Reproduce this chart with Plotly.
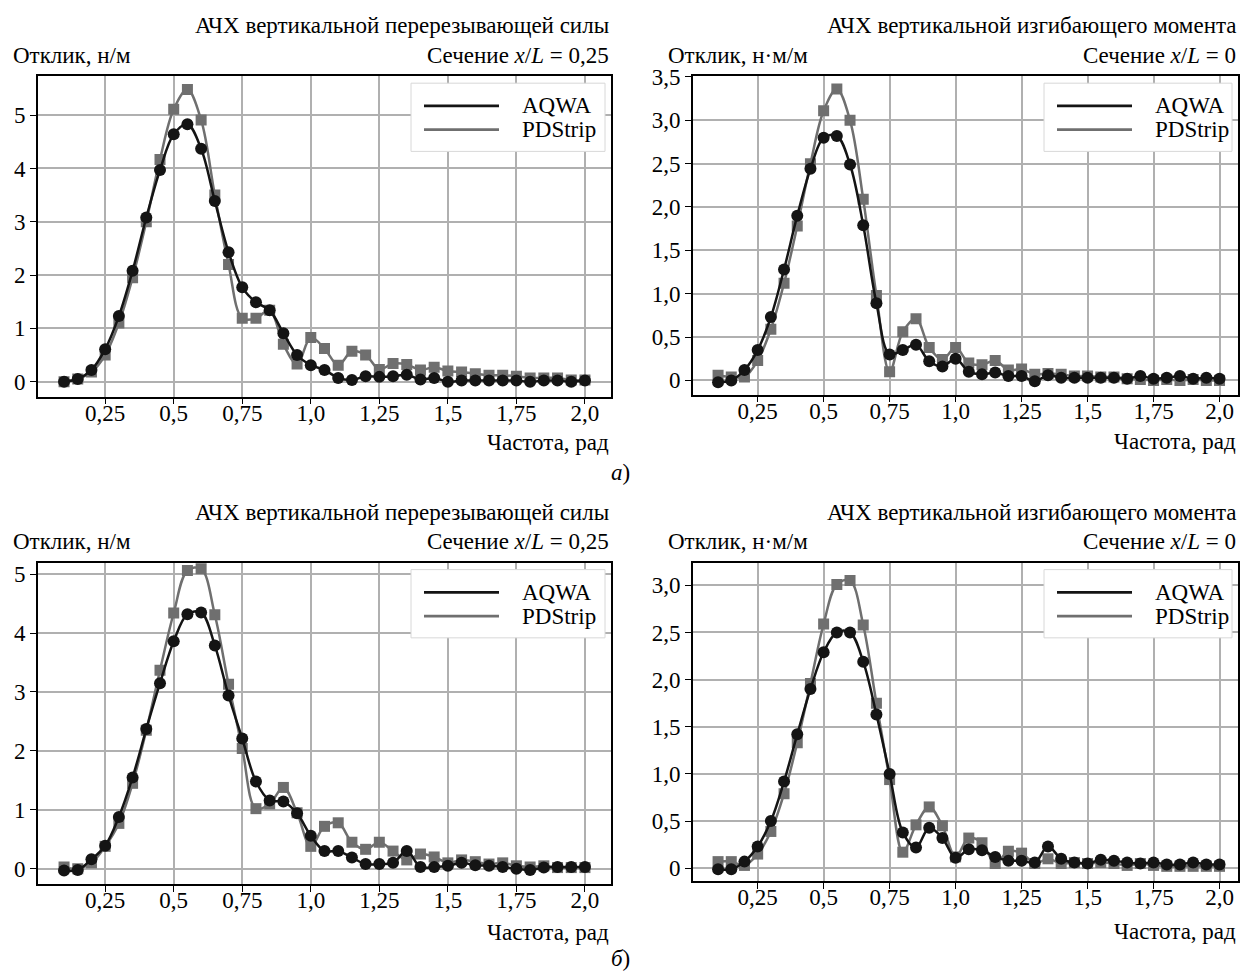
import plotly.graph_objects as go

W, H = 1241, 973
FONT = "Liberation Serif"
FS = 23

freq = [round(0.10 + 0.05 * i, 2) for i in range(39)]

# Panel a) left: vertical shear force, x/L = 0.25
a_force_aqwa = [0.0, 0.05, 0.22, 0.61, 1.23, 2.08, 3.08, 3.97, 4.64, 4.83, 4.37, 3.39, 2.43, 1.77, 1.49,
                1.34, 0.91, 0.50, 0.31, 0.22, 0.07, 0.03, 0.10, 0.09, 0.10, 0.13, 0.04, 0.07, 0.0, 0.02,
                0.02, 0.02, 0.02, 0.02, 0.0, 0.02, 0.02, 0.0, 0.02]
a_force_pdstrip = [0.0, 0.05, 0.18, 0.50, 1.10, 1.95, 3.0, 4.17, 5.11, 5.48, 4.91, 3.50, 2.20, 1.19, 1.19,
                   1.34, 0.70, 0.33, 0.83, 0.62, 0.31, 0.57, 0.50, 0.23, 0.34, 0.32, 0.22, 0.27, 0.20, 0.18,
                   0.15, 0.12, 0.12, 0.10, 0.07, 0.07, 0.07, 0.03, 0.03]
# Panel a) right: vertical bending moment, x/L = 0
a_moment_aqwa = [-0.02, 0.0, 0.12, 0.35, 0.73, 1.28, 1.90, 2.44, 2.80, 2.82, 2.49, 1.79, 0.89, 0.30, 0.35,
                 0.41, 0.22, 0.16, 0.25, 0.10, 0.07, 0.09, 0.05, 0.05, -0.01, 0.06, 0.03, 0.03, 0.03, 0.03,
                 0.03, 0.02, 0.05, 0.02, 0.03, 0.05, 0.02, 0.03, 0.02]
a_moment_pdstrip = [0.06, 0.04, 0.04, 0.23, 0.59, 1.12, 1.78, 2.50, 3.11, 3.36, 3.0, 2.09, 0.98, 0.10, 0.56,
                    0.71, 0.38, 0.24, 0.38, 0.20, 0.18, 0.23, 0.12, 0.13, 0.07, 0.08, 0.07, 0.05, 0.05, 0.04,
                    0.04, 0.02, 0.01, 0.0, 0.01, 0.0, 0.01, 0.0, 0.0]
# Panel б) left
b_force_aqwa = [-0.03, -0.02, 0.16, 0.39, 0.88, 1.55, 2.37, 3.15, 3.86, 4.32, 4.35, 3.79, 2.94, 2.21, 1.48,
                1.16, 1.14, 0.94, 0.56, 0.30, 0.30, 0.19, 0.08, 0.08, 0.10, 0.30, 0.03, 0.03, 0.05, 0.10,
                0.06, 0.05, 0.03, 0.0, -0.02, 0.02, 0.03, 0.03, 0.03]
b_force_pdstrip = [0.03, 0.0, 0.10, 0.38, 0.77, 1.45, 2.35, 3.37, 4.34, 5.06, 5.09, 4.31, 3.13, 2.04, 1.02,
                   1.10, 1.38, 0.95, 0.38, 0.72, 0.78, 0.45, 0.33, 0.45, 0.30, 0.15, 0.25, 0.20, 0.10, 0.15,
                   0.12, 0.08, 0.10, 0.05, 0.03, 0.05, 0.02, 0.02, 0.02]
# Panel б) right
b_moment_aqwa = [-0.01, -0.01, 0.07, 0.23, 0.50, 0.92, 1.42, 1.90, 2.29, 2.50, 2.50, 2.19, 1.63, 1.0, 0.38,
                 0.22, 0.43, 0.32, 0.11, 0.20, 0.19, 0.12, 0.08, 0.08, 0.06, 0.23, 0.10, 0.06, 0.05, 0.09,
                 0.08, 0.06, 0.05, 0.06, 0.04, 0.04, 0.06, 0.04, 0.04]
b_moment_pdstrip = [0.07, 0.07, 0.03, 0.15, 0.39, 0.79, 1.33, 1.96, 2.59, 3.01, 3.05, 2.58, 1.75, 0.94, 0.17,
                    0.46, 0.65, 0.45, 0.12, 0.32, 0.27, 0.05, 0.18, 0.16, 0.05, 0.10, 0.05, 0.06, 0.05, 0.06,
                    0.05, 0.03, 0.05, 0.03, 0.02, 0.02, 0.02, 0.02, 0.02]

x_tickvals = [0.25, 0.5, 0.75, 1.0, 1.25, 1.5, 1.75, 2.0]
x_ticktext = ["0,25", "0,5", "0,75", "1,0", "1,25", "1,5", "1,75", "2,0"]
force_tickvals = [0, 1, 2, 3, 4, 5]
force_ticktext = ["0", "1", "2", "3", "4", "5"]
moment_a_tickvals = [0, 0.5, 1.0, 1.5, 2.0, 2.5, 3.0, 3.5]
moment_a_ticktext = ["0", "0,5", "1,0", "1,5", "2,0", "2,5", "3,0", "3,5"]
moment_b_tickvals = [0, 0.5, 1.0, 1.5, 2.0, 2.5, 3.0]
moment_b_ticktext = ["0", "0,5", "1,0", "1,5", "2,0", "2,5", "3,0"]

title_force = "АЧХ вертикальной перерезывающей силы"
title_moment = "АЧХ вертикальной изгибающего момента"
sec_force = "Сечение <i>x</i>/<i>L</i> = 0,25"
sec_moment = "Сечение <i>x</i>/<i>L</i> = 0"
ylab_force = "Отклик, н/м"
ylab_moment = "Отклик, н·м/м"
xlab = "Частота, рад"
series_names = ["AQWA", "PDStrip"]

C_AQWA = "#141414"
C_PD = "#6f6f6f"


def px(x):
    return x / W


def py(y):
    return 1 - y / H


# panel frames in pixels: (left, right, top, bottom), plus x-label offset below frame
panels = [
    dict(frame=(38, 611, 66, 390), xl=46, xr=[0.005, 2.095], yr=[-0.28, 5.73],
         data=(a_force_aqwa, a_force_pdstrip), tv=force_tickvals, tt=force_ticktext,
         t1=title_force, t2=sec_force, yl=ylab_force),
    dict(frame=(693, 1238, 66, 388), xl=47, xr=[0.005, 2.07], yr=[-0.164, 3.508],
         data=(a_moment_aqwa, a_moment_pdstrip), tv=moment_a_tickvals, tt=moment_a_ticktext,
         t1=title_moment, t2=sec_moment, yl=ylab_moment),
    dict(frame=(38, 611, 558, 883), xl=49, xr=[0.005, 2.095], yr=[-0.259, 5.194],
         data=(b_force_aqwa, b_force_pdstrip), tv=force_tickvals, tt=force_ticktext,
         t1=title_force, t2=sec_force, yl=ylab_force),
    dict(frame=(693, 1238, 558, 880), xl=51, xr=[0.005, 2.07], yr=[-0.136, 3.24],
         data=(b_moment_aqwa, b_moment_pdstrip), tv=moment_b_tickvals, tt=moment_b_ticktext,
         t1=title_moment, t2=sec_moment, yl=ylab_moment),
]

fig = go.Figure()
annotations = []
shapes = []
layout = {}
fnt = dict(family=FONT, size=FS, color="black")

for i, p in enumerate(panels):
    n = "" if i == 0 else str(i + 1)
    L, R, T, B = p["frame"]
    xa, ya = "x" + n, "y" + n
    aqwa, pd_ = p["data"]
    fig.add_trace(go.Scatter(x=freq, y=pd_, mode="lines+markers", name=series_names[1],
                             line=dict(color=C_PD, width=2.5, shape="spline"),
                             marker=dict(symbol="square", size=11, color=C_PD),
                             xaxis=xa, yaxis=ya, showlegend=False))
    fig.add_trace(go.Scatter(x=freq, y=aqwa, mode="lines+markers", name=series_names[0],
                             line=dict(color=C_AQWA, width=2.5, shape="spline"),
                             marker=dict(symbol="circle", size=12, color=C_AQWA),
                             xaxis=xa, yaxis=ya, showlegend=False))
    axcommon = dict(showline=True, linecolor="black", linewidth=1.6, mirror=True,
                    ticks="outside", ticklen=6, tickcolor="black", tickwidth=1.3,
                    showgrid=True, gridcolor="#b0b0b0", gridwidth=1.5, zeroline=False,
                    tickfont=fnt)
    layout["xaxis" + n] = dict(axcommon, domain=[px(L), px(R)], range=p["xr"], anchor=ya,
                               tickvals=x_tickvals, ticktext=x_ticktext, ticklabelstandoff=-11)
    layout["yaxis" + n] = dict(axcommon, domain=[py(B), py(T)], range=p["yr"], anchor=xa,
                               tickvals=p["tv"], ticktext=p["tt"])
    annotations += [
        dict(x=px(R), y=py(T - 51), text=p["t1"], xref="paper", yref="paper",
             xanchor="right", yanchor="middle", showarrow=False, font=fnt),
        dict(x=px(R), y=py(T - 21), text=p["t2"], xref="paper", yref="paper",
             xanchor="right", yanchor="middle", showarrow=False, font=fnt),
        dict(x=px(L - 27), y=py(T - 21), text=p["yl"], xref="paper", yref="paper",
             xanchor="left", yanchor="middle", showarrow=False, font=fnt),
        dict(x=px(R), y=py(B + p["xl"]), text=xlab, xref="paper", yref="paper",
             xanchor="right", yanchor="middle", showarrow=False, font=fnt),
    ]
    # legend box
    lx0 = R - 200 if i % 2 == 0 else R - 194
    shapes.append(dict(type="rect", xref="paper", yref="paper", layer="above",
                       x0=px(lx0), x1=px(R - 6), y0=py(T + 76), y1=py(T + 7),
                       fillcolor="white", line=dict(color="#d8d8d8", width=1)))
    for k, (c, name) in enumerate(zip([C_AQWA, C_PD], series_names)):
        yy = T + 30 + 24 * k
        shapes.append(dict(type="line", xref="paper", yref="paper", layer="above",
                           x0=px(lx0 + 13), x1=px(lx0 + 88), y0=py(yy), y1=py(yy),
                           line=dict(color=c, width=2.8)))
        annotations.append(dict(x=px(lx0 + 109), y=py(yy), text=name, xref="paper", yref="paper",
                                xanchor="left", yanchor="middle", showarrow=False, font=fnt))

annotations += [
    dict(x=px(620), y=py(467), text="<i>а</i>)", xref="paper", yref="paper",
         xanchor="center", yanchor="middle", showarrow=False, font=fnt),
    dict(x=px(620), y=py(958), text="<i>б</i>)", xref="paper", yref="paper",
         xanchor="center", yanchor="middle", showarrow=False, font=fnt),
]

fig.update_layout(width=W, height=H, margin=dict(l=0, r=0, t=0, b=0),
                  paper_bgcolor="white", plot_bgcolor="white",
                  annotations=annotations, shapes=shapes, showlegend=False, **layout)

fig.write_html("out.html", config={"displayModeBar": False},
               post_script="document.body.style.margin='0';document.body.style.padding='0';"
                           "document.documentElement.style.overflow='hidden';"
                           "var d=document.getElementById('{plot_id}');"
                           "d.style.position='absolute';d.style.top='0px';d.style.left='0px';")
